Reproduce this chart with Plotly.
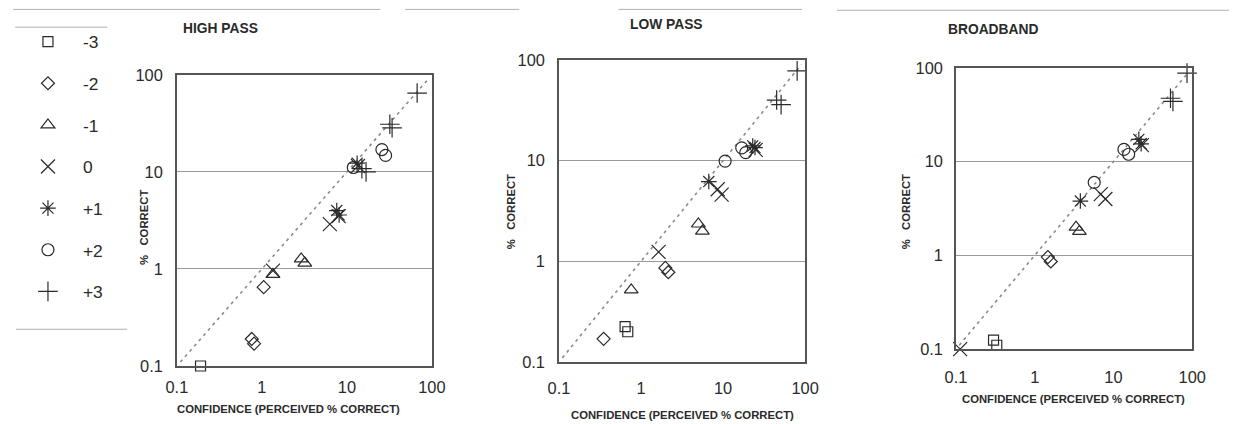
import plotly.graph_objects as go

# ---------------- data ----------------
CATEGORIES = ["-3", "-2", "-1", "0", "+1", "+2", "+3"]
SYMBOLS = ["square-open", "diamond-open", "triangle-up-open", "x-thin-open",
           "asterisk-open", "circle-open", "cross-thin-open"]
SIZES = [10, 10, 12, 14, 13, 12, 14]

PANEL_TITLES = ["HIGH PASS", "LOW PASS", "BROADBAND"]
X_TITLE = "CONFIDENCE (PERCEIVED % CORRECT)"
Y_TITLE = "%\u00a0\u00a0\u00a0CORRECT"
TICK_VALS = [0.1, 1, 10, 100]
TICK_TEXT = ["0.1", "1", "10", "100"]
DIAG = [0.11, 90]

# HIGH PASS
HP_CAT = ["-3", "-2", "-2", "-2", "-1", "-1", "-1", "0", "0", "0", "0",
          "+1", "+1", "+1", "+2", "+2", "+2", "+3", "+3", "+3", "+3", "+3"]
HP_X = [0.19, 1.05, 0.76, 0.81, 1.35, 2.9, 3.2, 1.35, 6.3, 8.0, 13.5,
        7.6, 8.1, 13.2, 11.9, 25.8, 28.5, 15.0, 16.8, 32, 34, 67]
HP_Y = [0.10, 0.65, 0.19, 0.17, 0.88, 1.27, 1.15, 0.96, 2.9, 3.5, 11.5,
        4.0, 3.6, 12.3, 11.1, 17, 14.8, 10.8, 10.0, 31, 28.5, 65]

# LOW PASS
LP_CAT = ["-3", "-3", "-2", "-2", "-2", "-1", "-1", "-1", "0", "0", "0", "0",
          "+1", "+1", "+1", "+2", "+2", "+2", "+3", "+3", "+3"]
LP_X = [0.64, 0.69, 0.35, 1.98, 2.15, 0.76, 5.0, 5.6, 1.64, 8.6, 9.6, 25,
        6.7, 23, 24.5, 10.6, 16.9, 18.9, 45, 51, 80]
LP_Y = [0.225, 0.20, 0.17, 0.86, 0.78, 0.52, 2.35, 2.0, 1.24, 5.2, 4.6, 12.8,
        6.2, 14, 13.5, 9.9, 13.4, 12.0, 40, 36, 78]

# BROADBAND
BB_CAT = ["-3", "-3", "-2", "-2", "-1", "-1", "0", "0", "0", "0",
          "+1", "+1", "+1", "+2", "+2", "+2", "+3", "+3", "+3"]
BB_X = [0.30, 0.33, 1.47, 1.6, 3.35, 3.7, 0.113, 6.9, 7.9, 23,
        3.8, 21, 22.5, 5.7, 13.6, 15.6, 53, 57, 86]
BB_Y = [0.125, 0.11, 0.96, 0.86, 2.0, 1.8, 0.10, 4.5, 4.0, 15,
        3.8, 17.3, 15.5, 6.0, 13.5, 12.0, 47.5, 44, 88]

PANELS = [(HP_CAT, HP_X, HP_Y), (LP_CAT, LP_X, LP_Y), (BB_CAT, BB_X, BB_Y)]

# ---------------- layout geometry ----------------
W, H = 1243, 424
FONT = "Arial, Liberation Sans, sans-serif"
INK = "#2a2a2a"
# the photographed page ends up framed by 8px and scaled back to W x H;
# positions below are wanted picture pixels, mapped back to page pixels.
PAD = 8
SX = W / (W + 2 * PAD)
SY = H / (H + 2 * PAD)


def px(x):
    return (x / SX - PAD) / W


def py(y):
    return 1 - (y / SY - PAD) / H


def fs(size):
    return round(size / ((SX + SY) / 2), 1)


# plot-area picture-pixel boxes: (left, right, top, bottom)
BOXES = [(175, 432, 74, 367), (560, 808, 59, 363), (960, 1198, 67, 350)]
TITLE_POS = [(219, 27), (668, 23), (997, 28)]
XTITLE_POS = [(287, 410), (684, 416), (1078, 400)]
YTITLE_POS = [(142, 228), (512, 212), (910, 212)]
XLABEL_STANDOFF = [6, 11, 12]
YLABEL_STANDOFF = [9, 9, 8]

fig = go.Figure()

for p, (cats, xs, ys) in enumerate(PANELS):
    xa = "x" if p == 0 else f"x{p+1}"
    ya = "y" if p == 0 else f"y{p+1}"
    fig.add_trace(go.Scatter(
        x=DIAG, y=DIAG, mode="lines", xaxis=xa, yaxis=ya,
        line=dict(color="#8a8a8a", width=1.6, dash="3px,4px"),
        showlegend=False, hoverinfo="skip"))
    for c, cat in enumerate(CATEGORIES):
        cx = [x for k, x in zip(cats, xs) if k == cat]
        cy = [y for k, y in zip(cats, ys) if k == cat]
        fig.add_trace(go.Scatter(
            x=cx, y=cy, mode="markers", name=cat, xaxis=xa, yaxis=ya,
            legendgroup=cat, showlegend=(p == 0), cliponaxis=False,
            marker=dict(symbol=SYMBOLS[c], size=SIZES[c], color=INK,
                        line=dict(color=INK, width=1.2))))

layout = dict(
    width=W, height=H, autosize=False, margin=dict(l=0, r=0, t=0, b=0),
    paper_bgcolor="white", plot_bgcolor="white",
    font=dict(family=FONT, color=INK),
    legend=dict(x=2.0 / W, y=1 - 15.5 / H, xanchor="left", yanchor="top",
                font=dict(size=fs(17), color=INK), tracegroupgap=16,
                itemwidth=60, bgcolor="rgba(0,0,0,0)"),
)

annotations = []
for p, (l, r, t, b) in enumerate(BOXES):
    sfx = "" if p == 0 else str(p + 1)
    layout["xaxis" + sfx] = dict(
        type="log", range=[-1, 2], domain=[px(l), px(r)],
        anchor="y" + sfx, tickvals=TICK_VALS, ticktext=TICK_TEXT,
        showgrid=False, zeroline=False, showline=True, mirror=True,
        linecolor="#555", linewidth=1.5, ticks="",
        ticklabelstandoff=XLABEL_STANDOFF[p],
        tickfont=dict(size=fs(16), color=INK))
    layout["yaxis" + sfx] = dict(
        type="log", range=[-1, 2], domain=[py(b), py(t)],
        anchor="x" + sfx, tickvals=TICK_VALS, ticktext=TICK_TEXT,
        showgrid=True, gridcolor="#9a9a9a", gridwidth=1,
        zeroline=False, showline=True, mirror=True,
        linecolor="#555", linewidth=1.5, ticks="",
        ticklabelstandoff=YLABEL_STANDOFF[p],
        tickfont=dict(size=fs(16), color=INK))
    tx, ty = TITLE_POS[p]
    annotations.append(dict(
        x=px(tx), y=py(ty), xref="paper", yref="paper", showarrow=False,
        text=PANEL_TITLES[p], xanchor="center", yanchor="middle",
        font=dict(size=fs(13.5), weight="bold", color=INK)))
    xx, xy = XTITLE_POS[p]
    annotations.append(dict(
        x=px(xx), y=py(xy), xref="paper", yref="paper", showarrow=False,
        text=X_TITLE, xanchor="center", yanchor="middle",
        font=dict(size=fs(11), weight="bold", color=INK)))
    yx, yy = YTITLE_POS[p]
    annotations.append(dict(
        x=px(yx), y=py(yy), xref="paper", yref="paper", showarrow=False,
        text=Y_TITLE, textangle=-90, xanchor="center", yanchor="middle",
        font=dict(size=fs(11), weight="bold", color=INK)))

layout["annotations"] = annotations

# decorative rules from the scanned page (picture pixels)
RULES = [(10, 380, 8), (405, 520, 8), (620, 805, 8), (840, 1243, 9),
         (12, 105, 26), (13, 125, 330)]
layout["shapes"] = [dict(type="line", xref="paper", yref="paper",
                         x0=max(px(a), 0), x1=min(px(b), 1),
                         y0=min(py(y), 0.999), y1=min(py(y), 0.999),
                         line=dict(color="#b0b0b0", width=1))
                    for a, b, y in RULES]

fig.update_layout(**layout)

POST = """
var s = document.createElement('style');
s.innerHTML = 'html,body{margin:0!important;padding:0!important;overflow:hidden!important;}'
  + '.plotly-graph-div{position:absolute!important;left:0!important;top:0!important;'
  + 'width:1243px!important;height:424px!important;}';
document.head.appendChild(s);
"""

fig.write_html("out.html", post_script=POST,
               config={"displayModeBar": False, "responsive": False})
